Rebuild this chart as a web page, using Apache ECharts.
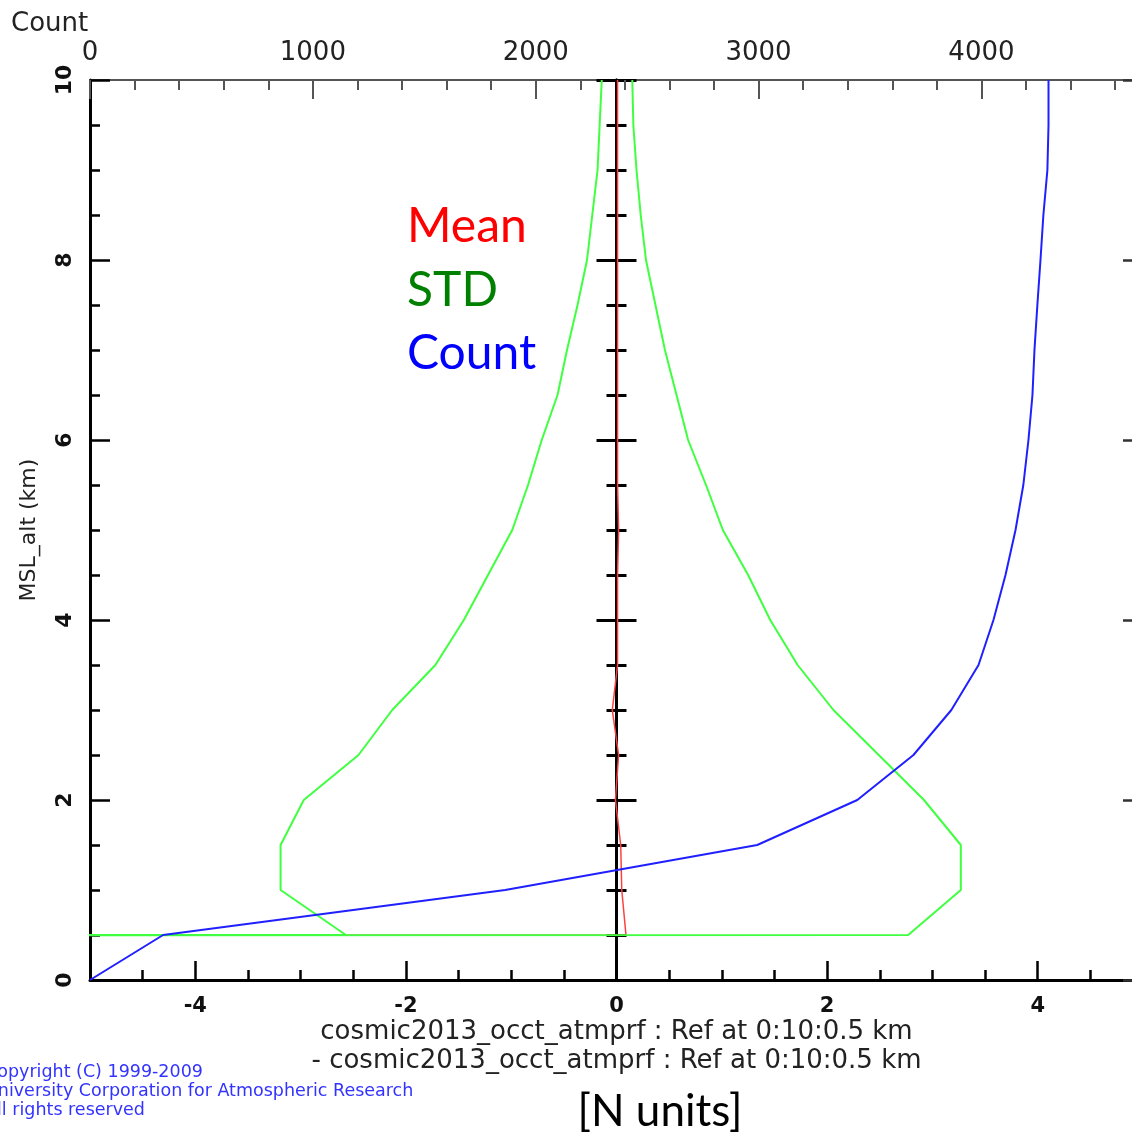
<!DOCTYPE html>
<html>
<head>
<meta charset="utf-8">
<title>cosmic2013_occt_atmprf Ref profile statistics</title>
<script src="https://cdn.jsdelivr.net/npm/echarts@6/dist/echarts.min.js"></script>
<style>
  html, body { margin: 0; padding: 0; background: #ffffff; }
  #chart { width: 1132px; height: 1135px; }
</style>
</head>
<body>
<div id="chart"></div>
<script>
// Altitude levels (km), 0 to 10 km every 0.5 km
const altitudes = [0, 0.5, 1, 1.5, 2, 2.5, 3, 3.5, 4, 4.5, 5, 5.5, 6, 6.5, 7, 7.5, 8, 8.5, 9, 9.5, 10];

// Surface level has no valid statistics; it carries the fill value
const FILL = -999;

// Mean difference (N units)
const meanValues = [FILL, 0.09, 0.05, 0.04, -0.01, 0.02, -0.04, 0.01, 0.01, 0.01, 0.02, 0.01, 0.01, 0.01, 0.01, 0.01, 0.01, 0.01, 0.01, 0.01, 0.01];

// Mean - STD and Mean + STD envelopes (N units)
const stdLower = [FILL, -2.57, -3.19, -3.19, -2.97, -2.45, -2.13, -1.72, -1.45, -1.22, -0.99, -0.84, -0.71, -0.56, -0.47, -0.37, -0.28, -0.23, -0.18, -0.16, -0.14];
const stdUpper = [FILL, 2.77, 3.27, 3.27, 2.92, 2.49, 2.06, 1.72, 1.46, 1.25, 1.01, 0.85, 0.68, 0.57, 0.46, 0.37, 0.28, 0.23, 0.19, 0.16, 0.15];

// Number of occultations per level
const countValues = [0, 328, 1863, 2994, 3443, 3695, 3865, 3987, 4054, 4108, 4153, 4188, 4211, 4229, 4238, 4251, 4265, 4278, 4296, 4301, 4301];

// Axis ranges
const diffRange = [-5, 5];
const countRange = [0, 4725];
const altRange = [0, 10];

const legendItems = [
  { text: 'Mean', color: '#ff0000' },
  { text: 'STD', color: '#008000' },
  { text: 'Count', color: '#0000ff' }
];

const copyrightLines = [
  'Copyright (C) 1999-2009',
  'University Corporation for Atmospheric Research',
  'All rights reserved'
];

const xAxisTitle = 'cosmic2013_occt_atmprf : Ref at 0:10:0.5 km\n- cosmic2013_occt_atmprf : Ref at 0:10:0.5 km';
const yAxisTitle = 'MSL_alt (km)';
const unitsText = '[N units]';

const NCL_FONT = 'DejaVu Sans';
const NOTE_FONT = 'Lato';

function pairs(xs) {
  return altitudes.map((a, i) => [xs[i], a]);
}

const chart = echarts.init(document.getElementById('chart'), null, { renderer: 'canvas' });

// Tick style helpers
function ticks(color, width, inside) {
  return {
    axisTick: { show: true, inside: inside, length: 20, lineStyle: { color: color, width: width } },
    minorTick: { show: true, splitNumber: 4, length: 10, lineStyle: { color: color, width: width } }
  };
}

const option = {
  backgroundColor: '#ffffff',
  animation: false,
  title: {
    text: 'Count',
    left: 6,
    top: 6,
    textStyle: { fontFamily: NCL_FONT, fontSize: 26, fontWeight: 'normal', color: '#222222' }
  },
  // The plot frame runs a little past the right edge of the page
  grid: { left: 90, top: 80, right: -11, bottom: 155, containLabel: false, outerBoundsMode: 'none' },
  xAxis: [
    {
      type: 'value',
      position: 'bottom',
      min: diffRange[0],
      max: diffRange[1],
      axisLine: { onZero: false, lineStyle: { color: '#000000', width: 3 } },
      axisTick: { inside: true, length: 19, lineStyle: { color: '#000000', width: 2.5 } },
      minorTick: { show: true, splitNumber: 4, length: 10, lineStyle: { color: '#000000', width: 2.5 } },
      axisLabel: {
        margin: 16,
        fontFamily: NCL_FONT, fontSize: 21, fontWeight: 'bold', color: '#111111',
        formatter: v => (Math.abs(v) === 5 ? '' : String(v))
      },
      splitLine: { show: false },
      name: xAxisTitle,
      nameLocation: 'middle',
      nameGap: 38,
      nameMoveOverlap: false,
      nameTextStyle: { fontFamily: NCL_FONT, fontSize: 26, color: '#222222', lineHeight: 29 }
    },
    {
      type: 'value',
      position: 'top',
      min: countRange[0],
      max: countRange[1],
      interval: 1000,
      axisLine: { onZero: false, lineStyle: { color: '#555555', width: 2 } },
      axisTick: { inside: true, length: 19, lineStyle: { color: '#555555', width: 2 } },
      minorTick: { show: true, splitNumber: 5, length: 10, lineStyle: { color: '#555555', width: 2 } },
      axisLabel: {
        margin: 14,
        fontFamily: NCL_FONT, fontSize: 26, color: '#222222',
        formatter: v => (v % 1000 === 0 ? String(v) : '')
      },
      splitLine: { show: false }
    }
  ],
  yAxis: [
    {
      type: 'value',
      position: 'left',
      min: altRange[0],
      max: altRange[1],
      interval: 2,
      axisLine: { onZero: false, lineStyle: { color: '#000000', width: 3 } },
      ...ticks('#000000', 2.5, true),
      axisLabel: {
        rotate: 90,
        margin: 14,
        fontFamily: NCL_FONT, fontSize: 22, fontWeight: 'bold', color: '#111111'
      },
      splitLine: { show: false },
      name: yAxisTitle,
      nameLocation: 'middle',
      nameGap: 50,
      nameRotate: 90,
      nameTextStyle: { fontFamily: NCL_FONT, fontSize: 22, color: '#222222' }
    },
    {
      type: 'value',
      position: 'right',
      min: altRange[0],
      max: altRange[1],
      interval: 2,
      axisLine: { onZero: false, lineStyle: { color: '#333333', width: 2 } },
      ...ticks('#333333', 2.5, true),
      axisLabel: { show: false },
      splitLine: { show: false }
    },
    // Zero line of the difference axis, ticked on both sides
    {
      type: 'value',
      position: 'left',
      min: altRange[0],
      max: altRange[1],
      interval: 2,
      axisLine: { onZero: true, onZeroAxisIndex: 0, lineStyle: { color: '#000000', width: 3 } },
      ...ticks('#000000', 3, false),
      axisLabel: { show: false },
      splitLine: { show: false }
    },
    {
      type: 'value',
      position: 'right',
      min: altRange[0],
      max: altRange[1],
      interval: 2,
      axisLine: { onZero: true, onZeroAxisIndex: 0, lineStyle: { color: '#000000', width: 3 } },
      ...ticks('#000000', 3, false),
      axisLabel: { show: false },
      splitLine: { show: false }
    }
  ],
  series: [
    {
      name: 'Mean',
      type: 'line',
      xAxisIndex: 0, yAxisIndex: 0,
      data: pairs(meanValues),
      showSymbol: false,
      clip: true,
      lineStyle: { color: '#ff4040', width: 1.5 }
    },
    {
      name: 'Mean - STD',
      type: 'line',
      xAxisIndex: 0, yAxisIndex: 0,
      data: pairs(stdLower),
      showSymbol: false,
      clip: true,
      lineStyle: { color: '#40ff40', width: 2 }
    },
    {
      name: 'Mean + STD',
      type: 'line',
      xAxisIndex: 0, yAxisIndex: 0,
      data: pairs(stdUpper),
      showSymbol: false,
      clip: true,
      lineStyle: { color: '#40ff40', width: 2 }
    },
    {
      name: 'Count',
      type: 'line',
      xAxisIndex: 1, yAxisIndex: 0,
      data: pairs(countValues),
      showSymbol: false,
      clip: true,
      lineStyle: { color: '#2020ff', width: 2 }
    }
  ],
  graphic: [
    ...legendItems.map((item, i) => ({
      type: 'text',
      left: 407,
      top: 203 + i * 63.5,
      style: { text: item.text, fill: item.color, font: '48px ' + NOTE_FONT }
    })),
    ...copyrightLines.map((line, i) => ({
      type: 'text',
      x: -15,
      y: 1072 + i * 19,
      style: {
        text: line, fill: '#3333ff', fontFamily: NCL_FONT, fontSize: 17.5,
        textAlign: 'left', textVerticalAlign: 'middle', verticalAlign: 'middle'
      }
    })),
    {
      type: 'text',
      x: 660,
      y: 1112,
      style: {
        text: unitsText, fill: '#000000', fontFamily: NOTE_FONT, fontSize: 44,
        textAlign: 'center', verticalAlign: 'middle', textVerticalAlign: 'middle'
      }
    }
  ]
};

chart.setOption(option);
</script>
</body>
</html>
